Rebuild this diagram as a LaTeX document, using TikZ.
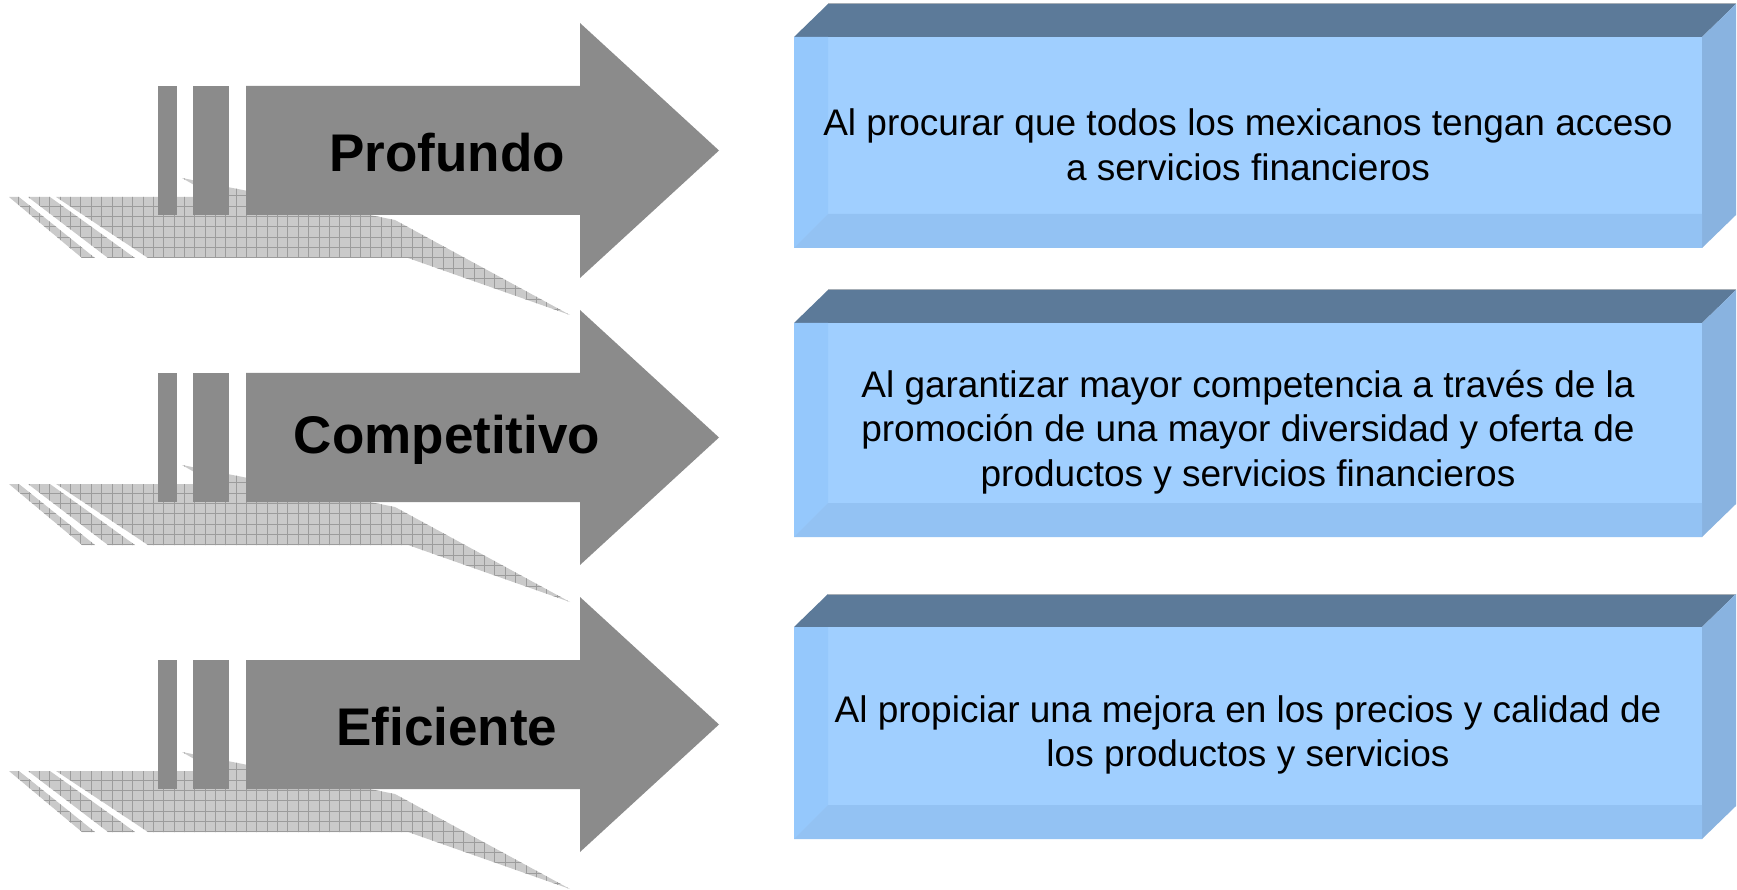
\documentclass[tikz,border=0pt]{standalone}
\usepackage{fontspec}
\setmainfont{Liberation Sans}
\definecolor{arrowgray}{HTML}{8B8B8B}
\definecolor{shadowgray}{HTML}{CACACA}
\definecolor{gridgray}{HTML}{9C9C9C}
\definecolor{topblue}{HTML}{5C7A99}
\definecolor{frontblue}{HTML}{A0CFFF}
\definecolor{stripblue}{HTML}{95C8FC}
\definecolor{bottomblue}{HTML}{93C2F3}
\definecolor{sideblue}{HTML}{89B3E0}
\definecolor{edgegray}{HTML}{A6AEB6}
\tikzset{
  arrowbody/.style={fill=arrowgray},
  shadowbody/.style={fill=shadowgray},
  gridline/.style={draw=gridgray, line width=0.7pt},
  topface/.style={fill=topblue},
  frontface/.style={fill=frontblue},
  leftstrip/.style={fill=stripblue},
  bottomstrip/.style={fill=bottomblue},
  sideface/.style={fill=sideblue},
  arrowlabel/.style={font=\fontsize{53}{62}\selectfont\bfseries, text=black, inner sep=0pt},
  boxlabel/.style={font=\fontsize{37}{44.5}\selectfont, text=black, align=center, inner sep=0pt}
}
\begin{document}
\begin{tikzpicture}[x=1pt,y=-1pt]
\useasboundingbox (0,0) rectangle (1737,890);
% ---------- arrows ----------
\foreach \i/\off/\lbl in {1/0/Profundo, 2/287/Competitivo, 3/574/Eficiente}{
  \begin{scope}[shift={(0,\off)}]
    % shadow
    \begin{scope}
      \clip (56,197) -- (215,197) -- (182,178) -- (395,220) -- (570,315) -- (408,258) -- (148,258) -- cycle
            (9,197) -- (19,197) -- (95,258) -- (82,258) -- cycle
            (28,197) -- (50,197) -- (135,258) -- (108,258) -- cycle;
      \fill[shadowbody] (0,170) rectangle (600,320);
      \draw[gridline, step=10.35pt, shift={(-2,-1)}] (0,170) grid (610,330);
    \end{scope}
    % bars
    \fill[arrowbody] (158,86) rectangle (177,215);
    \fill[arrowbody] (193,86) rectangle (229,215);
    % arrow body
    \fill[arrowbody] (246,86) -- (580,86) -- (580,23) -- (719,150.5) -- (580,278) -- (580,215) -- (246,215) -- cycle;
    \node[arrowlabel] (lbl\i) at (447,153) {\lbl};
  \end{scope}
}
% ---------- boxes ----------
\foreach \j/\t/\b in {1/37/248, 2/323/537, 3/627/839}{
  \fill[topface] (794,\t) -- (828,\t-33) -- (1736,\t-33) -- (1702,\t) -- cycle;
  \draw[edgegray, line width=1pt] (828,\t-33) -- (1736,\t-33);
  \fill[sideface] (1702,\t) -- (1736,\t-33) -- (1736,\b-33) -- (1702,\b) -- cycle;
  \fill[frontface] (794,\t) rectangle (1702,\b);
  \fill[leftstrip] (794,\t) -- (828,\t) -- (828,\b-34) -- (794,\b) -- cycle;
  \fill[bottomstrip] (794,\b) -- (828,\b-34) -- (1702,\b-34) -- (1702,\b) -- cycle;
}
\node[boxlabel] (txt1) at (1248,145) {Al procurar que todos los mexicanos tengan acceso\\a servicios financieros};
\node[boxlabel] (txt2) at (1248,432) {Al garantizar mayor competencia a través de la\\promoción de una mayor diversidad y oferta de\\productos y servicios financieros};
\node[boxlabel] (txt3) at (1248,735) {Al propiciar una mejora en los precios y calidad de\\los productos y servicios};
\end{tikzpicture}
\end{document}
